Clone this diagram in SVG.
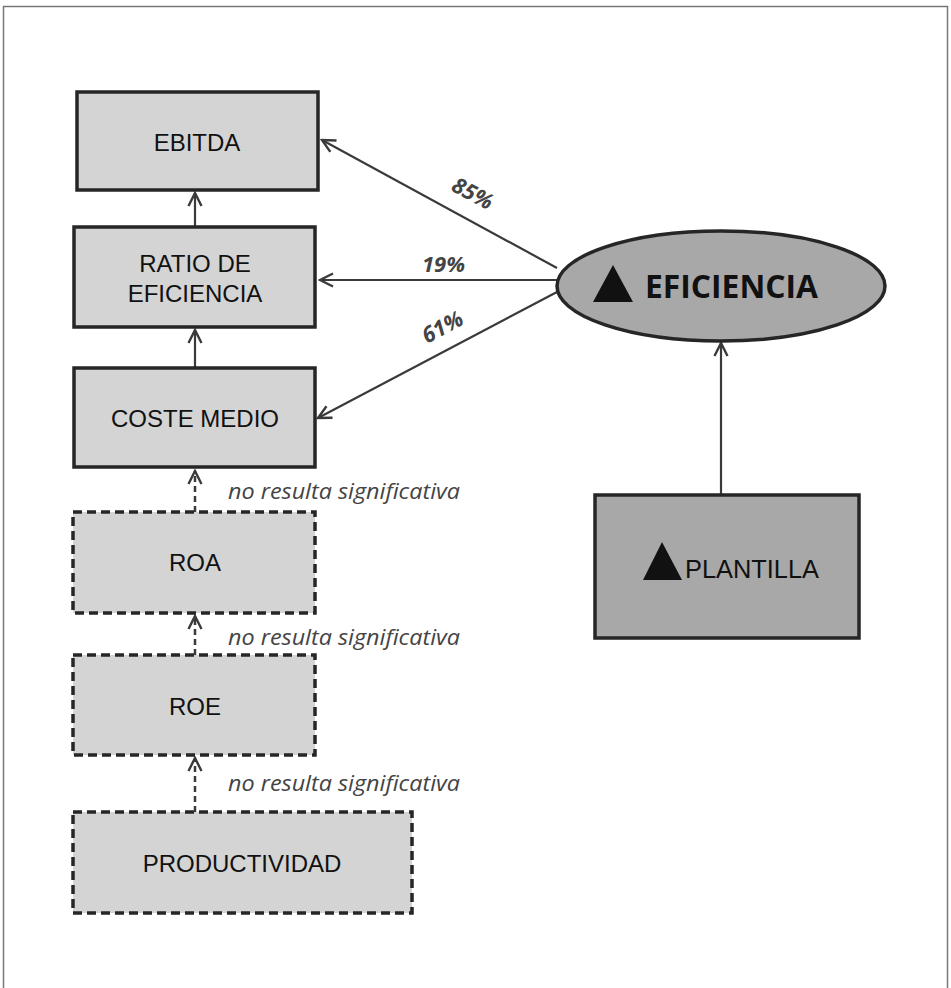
<svg xmlns="http://www.w3.org/2000/svg" width="951" height="988" viewBox="0 0 951 988">
<defs>
<style>
.box{fill:#d4d4d4;stroke:#262626;stroke-width:3.5}
.dbox{fill:#d4d4d4;stroke:#262626;stroke-width:3.5;stroke-dasharray:9,5}
.lbl{font-family:"Liberation Sans",Arial,sans-serif;font-size:24px;fill:#111;text-anchor:middle}
.con{stroke:#3a3a3a;stroke-width:2.2;fill:none}
.dcon{stroke:#3a3a3a;stroke-width:2.5;fill:none;stroke-dasharray:6,4}
.pct{font-family:"Open Sans","DejaVu Sans",sans-serif;font-size:22px;font-weight:bold;font-style:italic;fill:#444}
.note{font-family:"Open Sans","DejaVu Sans",sans-serif;font-size:22px;font-style:italic;fill:#444}
</style>
<marker id="arr" viewBox="0 0 16 16" refX="14" refY="8" markerWidth="16" markerHeight="16" markerUnits="userSpaceOnUse" orient="auto">
<path d="M1,1.5 L14,8 L1,14.5" fill="none" stroke="#3a3a3a" stroke-width="2.4"/>
</marker>
</defs>
<rect x="3.5" y="6.5" width="944" height="990" fill="#fff" stroke="#777" stroke-width="1.5"/>
<g id="connectors">
<line class="con" x1="557" y1="268" x2="322" y2="140" marker-end="url(#arr)"/>
<line class="con" x1="557" y1="280" x2="320" y2="280" marker-end="url(#arr)"/>
<line class="con" x1="557" y1="292" x2="318" y2="418" marker-end="url(#arr)"/>
<line class="con" x1="721" y1="495" x2="721" y2="343" marker-end="url(#arr)"/>
<line class="con" x1="195" y1="227" x2="195" y2="193" marker-end="url(#arr)" stroke-width="2.8"/>
<line class="con" x1="195" y1="368" x2="195" y2="330" marker-end="url(#arr)" stroke-width="2.8"/>
<line class="dcon" x1="195" y1="512" x2="195" y2="471" marker-end="url(#arr)"/>
<line class="dcon" x1="195" y1="655" x2="195" y2="616" marker-end="url(#arr)"/>
<line class="dcon" x1="195" y1="812" x2="195" y2="758" marker-end="url(#arr)"/>
<text class="pct" transform="translate(450,190) rotate(28)">85%</text>
<text class="pct" x="422" y="272">19%</text>
<text class="pct" transform="translate(427,344) rotate(-28)">61%</text>
<text class="note" x="228" y="499" textLength="232" lengthAdjust="spacingAndGlyphs">no resulta significativa</text>
<text class="note" x="228" y="645" textLength="232" lengthAdjust="spacingAndGlyphs">no resulta significativa</text>
<text class="note" x="228" y="791" textLength="232" lengthAdjust="spacingAndGlyphs">no resulta significativa</text>
</g>
<g id="ebitda">
<rect class="box" x="77" y="92" width="241" height="98"/>
<text class="lbl" x="197" y="151">EBITDA</text>
</g>
<g id="ratio">
<rect class="box" x="74" y="227" width="241" height="100"/>
<text class="lbl" x="195" y="272">RATIO DE</text>
<text class="lbl" x="195" y="302">EFICIENCIA</text>
</g>
<g id="coste">
<rect class="box" x="74" y="368" width="241" height="99"/>
<text class="lbl" x="195" y="427">COSTE MEDIO</text>
</g>
<g id="roa">
<rect class="dbox" x="73" y="512" width="242" height="101"/>
<text class="lbl" x="195" y="571">ROA</text>
</g>
<g id="roe">
<rect class="dbox" x="73" y="655" width="242" height="100"/>
<text class="lbl" x="195" y="715">ROE</text>
</g>
<g id="productividad">
<rect class="dbox" x="73" y="812" width="339" height="101"/>
<text class="lbl" x="242" y="872">PRODUCTIVIDAD</text>
</g>
<g id="eficiencia">
<ellipse cx="721" cy="286" rx="164" ry="55" fill="#a8a8a8" stroke="#262626" stroke-width="3.5"/>
<polygon points="593,302 613,265 633,302" fill="#111"/>
<text x="645" y="298" font-family="'Open Sans','DejaVu Sans',sans-serif" font-size="33" font-weight="bold" fill="#111" textLength="173" lengthAdjust="spacingAndGlyphs">EFICIENCIA</text>
</g>
<g id="plantilla">
<rect x="595" y="495" width="264" height="143" fill="#a8a8a8" stroke="#262626" stroke-width="3.5"/>
<polygon points="643,580 662,542 682,580" fill="#111"/>
<text x="685" y="578" font-family="'Liberation Sans',Arial,sans-serif" font-size="25" fill="#111" textLength="134" lengthAdjust="spacingAndGlyphs">PLANTILLA</text>
</g>
</svg>
